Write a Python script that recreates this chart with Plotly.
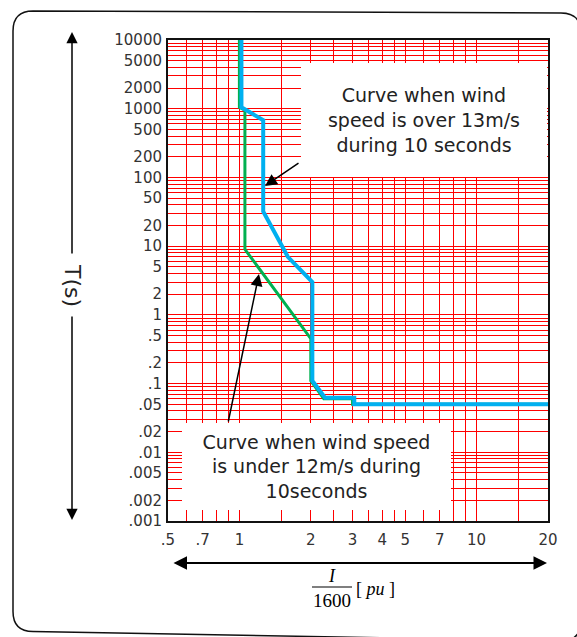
import math
import plotly.graph_objects as go

# ---------------- data ----------------
x_grid = [0.5, 0.6, 0.7, 0.8, 0.9, 1, 1.5, 2, 2.5, 3, 3.5, 4, 4.5, 5, 6, 7, 8, 9, 10, 15, 20]
x_label_vals = [0.5, 0.7, 1, 2, 3, 4, 5, 7, 10, 20]
x_label_text = [".5", ".7", "1", "2", "3", "4", "5", "7", "10", "20"]

y_grid = [m * 10.0 ** e for e in range(-3, 4) for m in range(1, 10)] + [10000]
y_label_vals = [10000, 5000, 2000, 1000, 500, 200, 100, 50, 20, 10, 5, 2, 1,
                0.5, 0.2, 0.1, 0.05, 0.02, 0.01, 0.005, 0.002, 0.001]
y_label_text = ["10000", "5000", "2000", "1000", "500", "200", "100", "50", "20", "10",
                "5", "2", "1", ".5", ".2", ".1", ".05", ".02", ".01", ".005", ".002", ".001"]

# curve: wind speed under 12 m/s (green)
green_x = [1.0, 1.0, 1.055, 1.055, 2.0, 2.0, 2.27, 3.0, 3.0, 20]
green_y = [10000, 1050, 950, 9, 0.45, 0.11, 0.06, 0.06, 0.05, 0.05]

# curve: wind speed over 13 m/s (blue)
blue_x = [1.02, 1.02, 1.26, 1.26, 1.6, 2.03, 2.03, 2.3, 3.05, 3.05, 20]
blue_y = [10000, 1050, 680, 32, 7, 3, 0.11, 0.062, 0.062, 0.05, 0.05]

text_over = "Curve when wind<br>speed is over 13m/s<br>during 10 seconds"
text_under = "Curve when wind speed<br>is under 12m/s during<br>10seconds"


def label_for(v, vals, texts):
    for lv, t in zip(vals, texts):
        if math.isclose(v, lv, rel_tol=1e-6):
            return t
    return ""


x_ticktext = [label_for(v, x_label_vals, x_label_text) for v in x_grid]
y_ticktext = [label_for(v, y_label_vals, y_label_text) for v in y_grid]

W, H = 577, 637
L, R, T, B = 168, 29, 40, 116
PW, PH = W - L - R, H - T - B


def px(xp):
    return (xp - L) / PW


def py(yp):
    return (H - B - yp) / PH


fig = go.Figure()
fig.add_trace(go.Scatter(x=green_x, y=green_y, mode="lines",
                         line=dict(color="#00B050", width=3), hoverinfo="skip"))
fig.add_trace(go.Scatter(x=blue_x, y=blue_y, mode="lines",
                         line=dict(color="#00B0F0", width=4), hoverinfo="skip"))

tick_font = dict(family="DejaVu Sans", size=15, color="#333333")
fig.update_xaxes(type="log", range=[math.log10(0.5), math.log10(20)],
                 tickmode="array", tickvals=x_grid, ticktext=x_ticktext,
                 showgrid=True, gridcolor="#FF0000", gridwidth=1,
                 ticks="outside", ticklen=4, tickcolor="rgba(0,0,0,0)",
                 showline=True, linecolor="#111111", linewidth=2, mirror=True,
                 zeroline=False, tickfont=tick_font, tickangle=0)
fig.update_yaxes(type="log", range=[-3, 4],
                 tickmode="array", tickvals=y_grid, ticktext=y_ticktext,
                 showgrid=True, gridcolor="#FF0000", gridwidth=1,
                 ticks="outside", ticklen=1, tickcolor="rgba(0,0,0,0)",
                 showline=True, linecolor="#111111", linewidth=2, mirror=True,
                 zeroline=False, tickfont=tick_font)

shapes = []
# fraction bar of I/1600
shapes.append(dict(type="line", xref="paper", yref="paper",
                   x0=px(312), x1=px(352), y0=py(587), y1=py(587),
                   line=dict(color="black", width=1.2)))
# outer rounded frame (slightly skewed, cut by the picture edge at right/bottom)
r = 20
xl, xr = 13, 581
yt_l, yt_r = 11, 13
yb_l, yb_r = 631.5, 641
pts = [
    f"M {px(xl + r)},{py(yt_l)}",
    f"L {px(xr - r)},{py(yt_r)}",
    f"Q {px(xr)},{py(yt_r)} {px(xr)},{py(yt_r + r)}",
    f"L {px(xr)},{py(yb_r - r)}",
    f"Q {px(xr)},{py(yb_r)} {px(xr - r)},{py(yb_r)}",
    f"L {px(xl + r)},{py(yb_l)}",
    f"Q {px(xl)},{py(yb_l)} {px(xl)},{py(yb_l - r)}",
    f"L {px(xl)},{py(yt_l + r)}",
    f"Q {px(xl)},{py(yt_l)} {px(xl + r)},{py(yt_l)}",
]
shapes.append(dict(type="path", xref="paper", yref="paper", path=" ".join(pts),
                   line=dict(color="#111111", width=1.5)))

ann_font = dict(family="DejaVu Sans", size=19, color="#222222")
annotations = [
    dict(xref="paper", yref="paper", x=px(424), y=py(120), text=text_over,
         showarrow=False, font=ann_font, align="center", valign="middle",
         xanchor="center", yanchor="middle", width=246, height=114,
         bgcolor="white", borderpad=0, borderwidth=0),
    dict(xref="paper", yref="paper", x=px(316.5), y=py(466.5), text=text_under,
         showarrow=False, font=ann_font, align="center", valign="middle",
         xanchor="center", yanchor="middle", width=269, height=87,
         bgcolor="white", borderpad=0, borderwidth=0),
    # callout arrows
    dict(xref="paper", yref="paper", x=px(265), y=py(186), text="", showarrow=True,
         ax=35, ay=-24, arrowhead=2, arrowsize=1.6, arrowwidth=1.5, arrowcolor="black"),
    dict(xref="paper", yref="paper", x=px(259), y=py(274), text="", showarrow=True,
         ax=-31, ay=149, arrowhead=2, arrowsize=1.6, arrowwidth=1.5, arrowcolor="black"),
    # vertical T(s) arrows
    dict(xref="paper", yref="paper", x=px(72), y=py(32), text="", showarrow=True,
         ax=0, ay=223, arrowhead=2, arrowsize=1.5, arrowwidth=1.5, arrowcolor="black"),
    dict(xref="paper", yref="paper", x=px(72), y=py(520), text="", showarrow=True,
         ax=0, ay=-205, arrowhead=2, arrowsize=1.5, arrowwidth=1.5, arrowcolor="black"),
    dict(xref="paper", yref="paper", x=px(73), y=py(285), text="T(s)", showarrow=False,
         textangle=90, font=dict(family="DejaVu Sans", size=22, color="#222222"),
         xanchor="center", yanchor="middle"),
    # horizontal double arrow
    dict(xref="paper", yref="paper", x=px(547), y=py(563), text="", showarrow=True,
         ax=-375, ay=0, arrowhead=2, startarrowhead=2, arrowside="end+start",
         arrowsize=1.5, startarrowsize=1.5, arrowwidth=1.8, arrowcolor="black"),
    # x-axis quantity I/1600 [pu]
    dict(xref="paper", yref="paper", x=px(332), y=py(576), text="<i>I</i>", showarrow=False,
         font=dict(family="Liberation Serif", size=18, color="black"),
         xanchor="center", yanchor="middle"),
    dict(xref="paper", yref="paper", x=px(332), y=py(600), text="1600", showarrow=False,
         font=dict(family="Liberation Serif", size=19, color="black"),
         xanchor="center", yanchor="middle"),
    dict(xref="paper", yref="paper", x=px(354), y=py(589), text="[ <i>pu</i> ]", showarrow=False,
         font=dict(family="Liberation Serif", size=18, color="black"),
         xanchor="left", yanchor="middle"),
]

fig.update_layout(width=W, height=H, margin=dict(l=L, r=R, t=T, b=B),
                  paper_bgcolor="white", plot_bgcolor="white", showlegend=False,
                  shapes=shapes, annotations=annotations)

fig.write_html("out.html")
